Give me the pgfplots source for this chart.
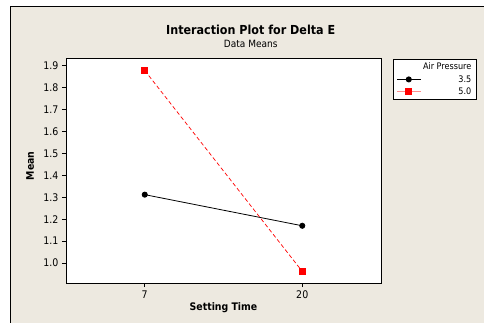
\documentclass[border=0pt]{standalone}
\usepackage{pgfplots}
\pgfplotsset{compat=1.18}
\usepackage{fontspec}
\setmainfont{DejaVu Sans Condensed}
\definecolor{bgc}{RGB}{237,233,224}
\begin{document}
\begin{tikzpicture}
\path[use as bounding box] (-66pt,-39pt) rectangle (418pt,283pt);
\clip (-66pt,-39pt) rectangle (418pt,283pt);
\fill[white] (-66pt,-39pt) rectangle (418pt,283pt);
\draw[fill=bgc, line width=1pt] (-55pt,-60pt) rectangle (440pt,276pt);
\node[font=\bfseries\fontsize{12.4}{14}\selectfont, anchor=base] at (184.7pt,249pt) {Interaction Plot for Delta E};
\node[font=\fontsize{10}{11}\selectfont, anchor=base] at (184.7pt,235.7pt) {Data Means};
\begin{axis}[
  at={(0pt,0pt)}, anchor=south west,
  scale only axis, width=315pt, height=224.3pt,
  xmin=0.5, xmax=2.5, ymin=0.909, ymax=1.932,
  xtick={1,2}, xticklabels={7,20},
  ytick={1.0,1.1,1.2,1.3,1.4,1.5,1.6,1.7,1.8,1.9},
  yticklabel style={/pgf/number format/.cd, fixed, fixed zerofill, precision=1},
  /pgf/number format/assume math mode=true,
  tick align=outside, xtick pos=bottom, ytick pos=left,
  major tick length=4pt,
  tick style={black, line width=0.6pt},
  axis line style={line width=0.6pt},
  axis background/.style={fill=white},
  ticklabel style={font=\fontsize{10.5}{12}\selectfont},
  xlabel={Setting Time}, ylabel={Mean},
  label style={font=\bfseries\fontsize{10.4}{12}\selectfont},
  xlabel style={at={(axis description cs:0.5,-0.11)}, anchor=center},
  ylabel style={at={(axis description cs:-0.114,0.522)}, anchor=center},
  legend image code/.code={\draw[mark repeat=2,mark phase=2] plot coordinates {(0pt,0pt) (12pt,0pt) (24pt,0pt)};},
  legend cell align=left,
  legend style={at={(axis description cs:1.038,1)}, anchor=north west, draw=black, line width=0.6pt, fill=white,
    font=\fontsize{9}{10}\selectfont, inner xsep=3pt, inner ysep=2pt, row sep=0pt,
    /tikz/every even column/.append style={column sep=2pt}},
]
\addlegendimage{empty legend}
\addlegendentry{\makebox[48pt][r]{Air Pressure}}
\addplot[black, line width=0.8pt, mark=*, mark size=2.6pt] coordinates {(1,1.312) (2,1.170)};
\addlegendentry{\makebox[48pt][r]{3.5}}
\addplot[red, line width=0.7pt, dash pattern=on 4pt off 2.5pt, mark=square*, mark size=3pt, mark options={solid, draw=red, fill=red},
  legend image post style={solid, red!45, line width=1pt}] coordinates {(1,1.878) (2,0.962)};
\addlegendentry{\makebox[48pt][r]{5.0}}
\end{axis}
\end{tikzpicture}
\end{document}
